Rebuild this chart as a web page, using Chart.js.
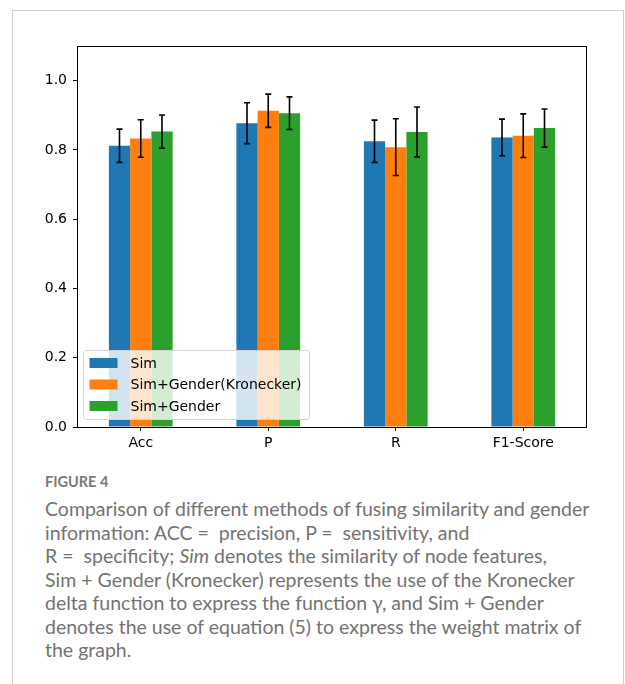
<!DOCTYPE html>
<html lang="en">
  <head>
    <meta charset="UTF-8" />
    <title>Figure 4</title>
    <script src="https://cdn.jsdelivr.net/npm/chart.js@4.4.1/dist/chart.umd.min.js"></script>
    <style>
      body {
        margin: 0;
        width: 625px;
        height: 684px;
        overflow: hidden;
        background: #fff;
        position: relative;
      }
      .frame {
        position: absolute;
        left: 12px;
        top: 10px;
        width: 610px;
        height: 720px;
        border: 1px solid #cfcfcf;
      }
      #chart {
        position: absolute;
        left: 0;
        top: 0;
      }
      .fig-label {
        position: absolute;
        left: 45px;
        top: 473px;
        font-family: Lato, "Open Sans", sans-serif;
        font-weight: bold;
        font-size: 14.5px;
        line-height: 18px;
        color: #7a7a7a;
      }
      .caption {
        position: absolute;
        left: 45px;
        top: 497px;
        font-family: Lato, "Open Sans", sans-serif;
        font-size: 19.5px;
        line-height: 23.5px;
        color: #737373;
        white-space: nowrap;
      }
    </style>
  </head>
  <body>
    <div class="frame"></div>
    <canvas id="chart" width="625" height="470"></canvas>
    <div class="fig-label">FIGURE 4</div>
    <div class="caption">
      Comparison of different methods of fusing similarity and gender<br />
      information: ACC =&nbsp; precision, P =&nbsp; sensitivity, and<br />
      R =&nbsp; specificity; <i>Sim</i> denotes the similarity of node features,<br />
      Sim + Gender (Kronecker) represents the use of the Kronecker<br />
      delta function to express the function &gamma;, and Sim + Gender<br />
      denotes the use of equation (5) to express the weight matrix of<br />
      the graph.
    </div>
  </body>
  <script>
    // values
    const categories = ["Acc", "P", "R", "F1-Score"];
    const seriesNames = ["Sim", "Sim+Gender(Kronecker)", "Sim+Gender"];
    const simValues = [0.812, 0.877, 0.825, 0.836];
    const simErrors = [0.048, 0.059, 0.061, 0.053];
    const kronValues = [0.833, 0.913, 0.808, 0.841];
    const kronErrors = [0.054, 0.048, 0.082, 0.063];
    const genderValues = [0.853, 0.906, 0.852, 0.863];
    const genderErrors = [0.048, 0.047, 0.072, 0.055];
    const yTicks = [0.0, 0.2, 0.4, 0.6, 0.8, 1.0];

    const colors = ["#1f77b4", "#ff7f0e", "#2ca02c"];
    const errors = [simErrors, kronErrors, genderErrors];

    Chart.defaults.font.family = "'DejaVu Sans', sans-serif";
    Chart.defaults.font.size = 14;
    Chart.defaults.color = "#000";

    const figurePlugin = {
      id: "figure",
      afterDatasetsDraw(chart) {
        const ctx = chart.ctx;
        const y = chart.scales.y;
        ctx.save();
        ctx.strokeStyle = "#000";
        ctx.lineWidth = 1.6;
        chart.data.datasets.forEach((ds, i) => {
          const meta = chart.getDatasetMeta(i);
          meta.data.forEach((bar, j) => {
            const v = ds.data[j];
            const e = errors[i][j];
            const top = y.getPixelForValue(v + e);
            const bot = y.getPixelForValue(v - e);
            ctx.beginPath();
            ctx.moveTo(bar.x, top);
            ctx.lineTo(bar.x, bot);
            ctx.moveTo(bar.x - 3, top);
            ctx.lineTo(bar.x + 3, top);
            ctx.moveTo(bar.x - 3, bot);
            ctx.lineTo(bar.x + 3, bot);
            ctx.stroke();
          });
        });
        // axes frame
        const a = chart.chartArea;
        ctx.lineWidth = 1;
        ctx.strokeRect(
          Math.round(a.left) + 0.5,
          Math.round(a.top) + 0.5,
          Math.round(a.right - a.left) - 1,
          Math.round(a.bottom - a.top)
        );
        ctx.restore();
      },
      afterDraw(chart) {
        const ctx = chart.ctx;
        const a = chart.chartArea;
        const w = 226;
        const h = 69;
        const x0 = a.left + 6.5;
        const y0 = a.bottom - 7.5 - h;
        const r = 3;
        ctx.save();
        ctx.beginPath();
        ctx.moveTo(x0 + r, y0);
        ctx.arcTo(x0 + w, y0, x0 + w, y0 + h, r);
        ctx.arcTo(x0 + w, y0 + h, x0, y0 + h, r);
        ctx.arcTo(x0, y0 + h, x0, y0, r);
        ctx.arcTo(x0, y0, x0 + w, y0, r);
        ctx.closePath();
        ctx.fillStyle = "rgba(255,255,255,0.8)";
        ctx.fill();
        ctx.strokeStyle = "#d4d4d4";
        ctx.lineWidth = 1;
        ctx.stroke();

        ctx.font = "14px 'DejaVu Sans', sans-serif";
        ctx.textBaseline = "middle";
        chart.data.datasets.forEach((ds, i) => {
          const cy = y0 + 12.5 + i * 21.5;
          ctx.fillStyle = ds.backgroundColor;
          ctx.fillRect(x0 + 6, cy - 5, 28, 10);
          ctx.fillStyle = "#000";
          ctx.fillText(ds.label, x0 + 47, cy + 1);
        });
        ctx.restore();
      },
    };

    new Chart(document.getElementById("chart"), {
      type: "bar",
      data: {
        labels: categories,
        datasets: [
          { label: seriesNames[0], data: simValues, backgroundColor: colors[0] },
          { label: seriesNames[1], data: kronValues, backgroundColor: colors[1] },
          { label: seriesNames[2], data: genderValues, backgroundColor: colors[2] },
        ],
      },
      options: {
        responsive: false,
        animation: false,
        devicePixelRatio: 1,
        categoryPercentage: 0.5,
        barPercentage: 1.0,
        layout: { padding: { left: 0, top: 46, right: 38, bottom: 0 } },
        plugins: {
          legend: { display: false },
          tooltip: { enabled: false },
        },
        scales: {
          x: {
            grid: {
              offset: false,
              drawOnChartArea: false,
              tickLength: 4,
              color: "#000",
            },
            border: { display: false },
            ticks: { padding: 4, color: "#000" },
            afterFit: (s) => {
              s.height = 43;
            },
          },
          y: {
            min: 0,
            max: 1.1,
            grid: {
              drawOnChartArea: false,
              tickLength: 4,
              color: "#000",
            },
            border: { display: false },
            ticks: {
              padding: 6,
              color: "#000",
              callback: (v) => v.toFixed(1),
            },
            afterBuildTicks: (s) => {
              s.ticks = yTicks.map((v) => ({ value: v }));
            },
            afterFit: (s) => {
              s.width = 77;
            },
          },
        },
      },
      plugins: [figurePlugin],
    });
  </script>
</html>
